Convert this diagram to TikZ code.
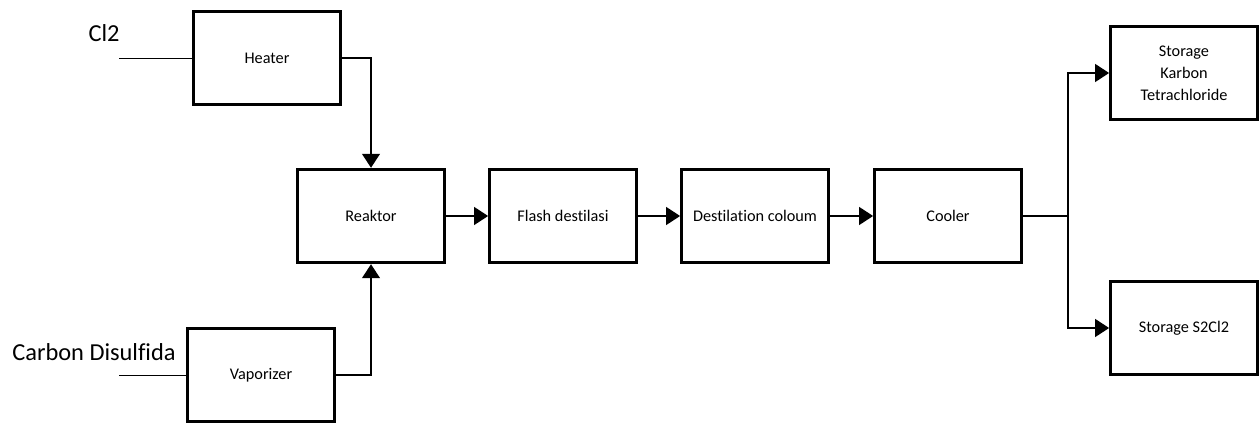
\documentclass[tikz,border=0pt]{standalone}
\usepackage{fontspec}
\setmainfont{Carlito}[Ligatures=NoCommon]
\usetikzlibrary{arrows.meta}
\begin{document}
\begin{tikzpicture}[
                x=0.75pt, y=-0.75pt,
                unit/.style={draw, line width=2.2pt, minimum width=110pt, minimum height=70pt,
                    inner sep=2pt, font=\fontsize{12.2}{16.5}\selectfont, align=center},
                flow/.style={line width=2.2pt, -{Triangle[length=10.5pt,width=13pt]}},
                feed/.style={line width=0.6pt},
                feedlabel/.style={font=\fontsize{18.3}{22}\selectfont, inner sep=0pt}
            ]
            \useasboundingbox (0,0) rectangle (1259,423);

            % units
            \node[unit] (heater) at (267,58) {Heater};
            \node[unit] (vaporizer) at (261,375) {Vaporizer};
            \node[unit] (reaktor) at (371,216) {Reaktor};
            \node[unit] (flash) at (563,216) {Flash destilasi};
            \node[unit] (kolom) at (755,216) {Destilation coloum};
            \node[unit] (cooler) at (948,216) {Cooler};
            \node[unit] (ccl4) at (1184,73) {Storage\\Karbon\\Tetrachloride};
            \node[unit] (s2cl2) at (1184,328) {Storage S2Cl2};

            % feeds
            \coordinate (clin) at (119,58);
            \coordinate (csin) at (119,375);
            \node[feedlabel] (cl) at (104,33) {Cl2};
            \node[feedlabel] (cs) at (94,352) {Carbon Disulfida};
            \draw[feed] (clin) -- (heater.west);
            \draw[feed] (csin) -- (vaporizer.west);

            % streams
            \draw[flow] (heater.east) -| (reaktor.north);
            \draw[flow] (vaporizer.east) -| (reaktor.south);
            \draw[flow] (reaktor) -- (flash);
            \draw[flow] (flash) -- (kolom);
            \draw[flow] (kolom) -- (cooler);
            \coordinate (split) at (1068,216);
            \draw[line width=2.2pt] (cooler.east) -- (split);
            \draw[flow] (split) |- (ccl4.west);
            \draw[flow] (split) |- (s2cl2.west);

        \end{tikzpicture}
\end{document}
